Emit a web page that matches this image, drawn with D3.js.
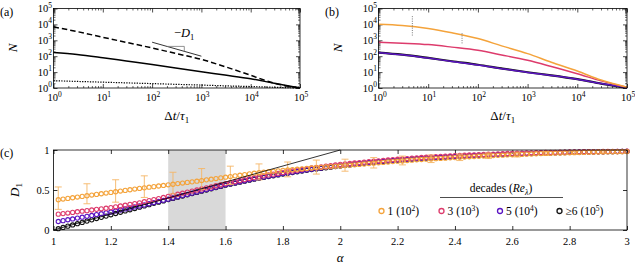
<!DOCTYPE html>
<html>
<head>
<meta charset="utf-8">
<script src="https://cdn.jsdelivr.net/npm/d3@7"></script>
<style>
  body { margin: 0; background: #fff; }
  svg text { font-family: "Liberation Serif", "DejaVu Serif", serif; fill: #000; }
</style>
</head>
<body>
<div id="chart"></div>
<script>
// ---- data: panels (a) and (b), N versus dt/tau1 ----
const tGrid = [1, 3, 10, 30, 100, 300, 1000, 3000, 10000, 30000, 100000];
const nSolidA  = [170, 128, 80, 50, 30, 18, 10.5, 6.5, 3.8, 2, 1];
const nDashedA = [7000, 3550, 1550, 740, 330, 150, 63, 22, 6.3, 2, 1];
const nDottedA = [2.88, 2.59, 2.33, 2.10, 1.89, 1.70, 1.53, 1.37, 1.24, 1.11, 1];
const nOrangeB = [10200, 8500, 5500, 2950, 1290, 447, 145, 41.7, 11.7, 3.16, 1.12];
const nPinkB   = [760, 660, 537, 372, 234, 120, 55, 22.4, 7.9, 2.8, 1.12];
const nPurpleB = [165, 122, 76, 47, 28, 16.5, 9.5, 6.2, 3.6, 1.9, 1.05];
const nBlackB  = [170, 126, 78, 48, 29, 17, 9.8, 6.3, 3.6, 1.9, 1];
const decadeExp = ["0", "1", "2", "3", "4", "5"];

// slope guide in (a)
const slopeT = [100, 1000], slopeN = [760, 100];
const triT = [200, 450, 450], triN = [413, 413, 202];
// dotted markers in (b)
const markT = [4.8, 48], markTop = [33000, 2800], markBot = [1800, 560];

// ---- data: panel (c), D1 versus alpha ----
const alphaN = 120; // alpha = 1 + k/60, k = 1..120
const d1Orange = [
  .378,.387,.395,.403,.412,.42, .428,.437,.445,.453,.462,.47, .478,.487,.495,.503,.512,.52,
  .527,.535,.542,.55,.557,.565, .572,.58,.587,.595,.602,.61, .618,.627,.635,.643,.652,.66,
  .668,.677,.685,.693,.702,.71, .716,.722,.728,.733,.739,.745, .75,.755,.76,.765,.77,.775,
  .779,.783,.788,.792,.796,.80, .805,.81,.815,.82,.825,.83, .835,.84,.845,.85,.855,.86,
  .864,.868,.873,.877,.881,.885, .888,.892,.895,.898,.902,.905, .908,.912,.915,.918,.922,.925,
  .928,.93,.933,.935,.938,.94, .943,.945,.948,.95,.953,.955, .957,.958,.96,.962,.963,.965,
  .967,.968,.97,.972,.973,.975, .976,.977,.978,.978,.979,.98];
const d1Pink = [
  .198,.205,.212,.22,.228,.235, .242,.25,.258,.265,.272,.28, .29,.30,.31,.32,.33,.34,
  .353,.367,.38,.393,.407,.42, .433,.447,.46,.473,.487,.50, .513,.527,.54,.553,.567,.58,
  .593,.605,.618,.63,.643,.655, .666,.677,.688,.698,.709,.72, .729,.738,.748,.757,.766,.775,
  .783,.79,.798,.805,.813,.82, .826,.832,.838,.843,.849,.855, .86,.865,.87,.875,.88,.885,
  .889,.893,.898,.902,.906,.91, .913,.917,.92,.923,.927,.93, .933,.935,.938,.94,.943,.945,
  .947,.949,.952,.954,.956,.958, .96,.961,.963,.965,.966,.968, .969,.97,.971,.973,.974,.975,
  .976,.977,.978,.978,.979,.98, .981,.982,.983,.983,.984,.985];
const d1Purple = [
  .106,.117,.128,.138,.149,.16, .171,.182,.193,.203,.214,.225, .238,.25,.263,.275,.288,.30,
  .314,.328,.343,.357,.371,.385, .40,.415,.43,.445,.46,.475, .49,.505,.52,.535,.55,.565,
  .578,.59,.603,.615,.628,.64, .651,.662,.673,.683,.694,.705, .714,.723,.733,.742,.751,.76,
  .768,.775,.783,.79,.798,.805, .812,.818,.825,.832,.838,.845, .85,.855,.86,.865,.87,.875,
  .879,.883,.888,.892,.896,.90, .903,.907,.91,.913,.917,.92, .923,.926,.929,.932,.935,.938,
  .94,.943,.945,.947,.95,.952, .954,.956,.957,.959,.961,.963, .964,.966,.967,.968,.97,.971,
  .972,.973,.975,.976,.977,.978, .979,.98,.98,.981,.982,.983];
const d1Black = [
  .016,.032,.048,.063,.079,.095, .111,.127,.143,.158,.174,.19, .206,.222,.238,.253,.269,.285,
  .301,.317,.333,.348,.364,.38, .395,.41,.425,.44,.455,.47, .485,.50,.515,.53,.545,.56,
  .573,.585,.598,.61,.623,.635, .646,.657,.668,.678,.689,.70, .709,.718,.728,.737,.746,.755,
  .763,.77,.778,.785,.793,.80, .807,.813,.82,.827,.833,.84, .845,.851,.856,.861,.867,.872,
  .876,.881,.885,.889,.894,.898, .901,.905,.908,.911,.915,.918, .921,.924,.927,.93,.933,.936,
  .938,.941,.943,.945,.948,.95, .952,.954,.955,.957,.959,.961, .963,.964,.966,.967,.969,.97,
  .971,.972,.974,.975,.976,.977, .978,.979,.979,.98,.981,.982];
// error bars on the 1-decade series, every 6th point
const errUp   = [.16,.15,.15,.15,.15,.15,.13,.11,.10,.095,.08,.07,.06,.05,.04,.035,.03,.025,.02,.015];
const errDown = [.12,.10,.13,.12,.12,.11,.10,.09,.085,.08,.07,.06,.05,.045,.04,.035,.03,.025,.02,.015];
const refAlpha = [1, 2], refD1 = [0, 1];
const bandAlpha = [1.4, 1.6];
const xTicksC = ["1", "1.2", "1.4", "1.6", "1.8", "2", "2.2", "2.4", "2.6", "2.8", "3"];
const yTicksC = ["0", "0.5", "1"];

const legendLabels = ["1", "3", "5", "\u22656"];
const legendExp = ["2", "3", "4", "5"];
const colors = { orange: "#f4a33b", pink: "#dd3b6c", purple: "#5a14c2", black: "#151515" };
const serif = "'Liberation Serif', 'DejaVu Serif', serif";

const svg = d3.select("#chart").append("svg")
    .attr("width", 635).attr("height", 266)
    .attr("font-family", serif);

function pow10(sel, exp) {
    sel.append("tspan").text("10");
    sel.append("tspan").attr("dy", -4.5).attr("font-size", 7.5).text(exp);
}

// log-log panel
function logPanel(left, right, top, bottom, tag, tagX) {
    const x = d3.scaleLog().domain([1, 1e5]).range([left, right]);
    const y = d3.scaleLog().domain([1, 1e5]).range([bottom, top]);
    const g = svg.append("g");
    const majors = decadeExp.map(e => 10 ** (+e));
    const minors = d3.range(0, 5).flatMap(d => d3.range(2, 10).map(m => m * 10 ** d));

    const axes = [
        [d3.axisBottom(x), `translate(0,${bottom})`],
        [d3.axisTop(x), `translate(0,${top})`],
        [d3.axisLeft(y), `translate(${left},0)`],
        [d3.axisRight(y), `translate(${right},0)`]
    ];
    axes.forEach(([ax, tr]) => {
        g.append("g").attr("transform", tr)
            .call(ax.tickValues(majors).tickSize(-4).tickFormat(""))
            .call(s => s.select(".domain").remove())
            .selectAll("line").attr("stroke", "#000").attr("stroke-width", 0.7);
        g.append("g").attr("transform", tr)
            .call(ax.tickValues(minors).tickSize(-2).tickFormat(""))
            .call(s => s.select(".domain").remove())
            .selectAll("line").attr("stroke", "#000").attr("stroke-width", 0.6);
    });

    // tick labels
    decadeExp.forEach(e => {
        const v = 10 ** (+e);
        g.append("text").attr("x", x(v) + 1).attr("y", bottom + 13)
            .attr("text-anchor", "middle").attr("font-size", 10.5)
            .attr("font-family", serif)
            .call(s => pow10(s, e));
        g.append("text").attr("x", left - 1.5).attr("y", y(v) + 3.5)
            .attr("text-anchor", "end").attr("font-size", 10.5)
            .attr("font-family", serif)
            .call(s => pow10(s, e));
    });

    // axis labels
    const xl = g.append("text").attr("x", (left + right) / 2).attr("y", 120)
        .attr("text-anchor", "middle").attr("font-size", 13).attr("font-family", serif);
    xl.append("tspan").text("\u0394");
    xl.append("tspan").attr("font-style", "italic").text("t");
    xl.append("tspan").text("/");
    xl.append("tspan").attr("font-style", "italic").text("\u03c4");
    xl.append("tspan").attr("dy", 3).attr("font-size", 9).text("1");

    g.append("text").attr("transform", `translate(${left - 37},48) rotate(-90)`)
        .attr("text-anchor", "middle").attr("font-size", 13).attr("font-family", serif)
        .attr("font-style", "italic").text("N");

    svg.append("text").attr("x", tagX).attr("y", 16).attr("font-size", 12)
        .attr("font-family", serif).text(tag);
    return { g, x, y };
}

function frame(g, left, right, top, bottom) {
    g.append("rect").attr("x", left).attr("y", top)
        .attr("width", right - left).attr("height", bottom - top)
        .attr("fill", "none").attr("stroke", "#000").attr("stroke-width", 0.8);
}

// ---------- panel (a) ----------
const A = { left: 53.5, right: 300, top: 8.5, bottom: 88 };
const pa = logPanel(A.left, A.right, A.top, A.bottom, "(a)", 0);
const lineA = d3.line().x((d, i) => pa.x(tGrid[i])).y(d => pa.y(d)).curve(d3.curveMonotoneX);
pa.g.append("path").datum(nDottedA).attr("d", lineA).attr("fill", "none")
    .attr("stroke", "#000").attr("stroke-width", 1.2).attr("stroke-dasharray", "1.3,1.3");
pa.g.append("path").datum(nSolidA).attr("d", lineA).attr("fill", "none")
    .attr("stroke", "#000").attr("stroke-width", 1.5);
pa.g.append("path").datum(nDashedA).attr("d", lineA).attr("fill", "none")
    .attr("stroke", "#000").attr("stroke-width", 1.5).attr("stroke-dasharray", "5.5,3");
// slope guide
pa.g.append("line")
    .attr("x1", pa.x(slopeT[0])).attr("y1", pa.y(slopeN[0]))
    .attr("x2", pa.x(slopeT[1])).attr("y2", pa.y(slopeN[1]))
    .attr("stroke", "#000").attr("stroke-width", 0.8);
pa.g.append("path")
    .attr("d", d3.line()(triT.map((t, i) => [pa.x(t), pa.y(triN[i])])))
    .attr("fill", "none").attr("stroke", "#777").attr("stroke-width", 0.8);
const dl = pa.g.append("text").attr("x", 174).attr("y", 37).attr("font-size", 12.5)
    .attr("font-family", serif);
dl.append("tspan").text("\u2212");
dl.append("tspan").attr("font-style", "italic").text("D");
dl.append("tspan").attr("dy", 3).attr("font-size", 8.5).text("1");
frame(pa.g, A.left, A.right, A.top, A.bottom);

// ---------- panel (b) ----------
const B = { left: 378.5, right: 627, top: 8.5, bottom: 88 };
const pb = logPanel(B.left, B.right, B.top, B.bottom, "(b)", 325);
const lineB = d3.line().x((d, i) => pb.x(tGrid[i])).y(d => pb.y(d)).curve(d3.curveMonotoneX);
[[nBlackB, colors.black, 2.2], [nPurpleB, colors.purple, 1.5],
 [nPinkB, colors.pink, 1.5], [nOrangeB, colors.orange, 1.5]].forEach(([d, c, w]) => {
    pb.g.append("path").datum(d).attr("d", lineB).attr("fill", "none")
        .attr("stroke", c).attr("stroke-width", w);
});
markT.forEach((t, i) => {
    pb.g.append("line")
        .attr("x1", pb.x(t)).attr("x2", pb.x(t))
        .attr("y1", pb.y(markTop[i])).attr("y2", pb.y(markBot[i]))
        .attr("stroke", "#555").attr("stroke-width", 0.8).attr("stroke-dasharray", "1,1.3");
});
frame(pb.g, B.left, B.right, B.top, B.bottom);

// ---------- panel (c) ----------
const C = { left: 53.5, right: 627, top: 150, bottom: 230 };
const xc = d3.scaleLinear().domain([1, 3]).range([C.left, C.right]);
const yc = d3.scaleLinear().domain([0, 1]).range([C.bottom, C.top]);
const gc = svg.append("g");
const alpha = d3.range(1, alphaN + 1).map(k => 1 + k / 60);

gc.append("rect")
    .attr("x", xc(bandAlpha[0])).attr("y", C.top)
    .attr("width", xc(bandAlpha[1]) - xc(bandAlpha[0])).attr("height", C.bottom - C.top)
    .attr("fill", "#d9d9d9");

// ticks
const xTickVals = xTicksC.map(Number), yTickVals = yTicksC.map(Number);
[[d3.axisBottom(xc).tickValues(xTickVals), `translate(0,${C.bottom})`],
 [d3.axisTop(xc).tickValues(xTickVals), `translate(0,${C.top})`],
 [d3.axisLeft(yc).tickValues(yTickVals), `translate(${C.left},0)`],
 [d3.axisRight(yc).tickValues(yTickVals), `translate(${C.right},0)`]].forEach(([ax, tr]) => {
    gc.append("g").attr("transform", tr)
        .call(ax.tickSize(-4).tickFormat(""))
        .call(s => s.select(".domain").remove())
        .selectAll("line").attr("stroke", "#000").attr("stroke-width", 0.8);
});
xTicksC.forEach(t => {
    gc.append("text").attr("x", xc(+t)).attr("y", 245).attr("text-anchor", "middle")
        .attr("font-size", 10.5).attr("font-family", serif).text(t);
});
yTicksC.forEach(t => {
    gc.append("text").attr("x", C.left - 4).attr("y", yc(+t) + 3.8).attr("text-anchor", "end")
        .attr("font-size", 10.5).attr("font-family", serif).text(t);
});

// markers
const series = [[d1Black, colors.black], [d1Purple, colors.purple], [d1Pink, colors.pink]];
series.forEach(([d, c]) => {
    gc.append("g").selectAll("circle").data(d).enter().append("circle")
        .attr("cx", (v, i) => xc(alpha[i])).attr("cy", v => yc(v)).attr("r", 2.1)
        .attr("fill", "none").attr("stroke", c).attr("stroke-width", 1.1);
});
// error bars on orange
const eg = gc.append("g").attr("stroke", "#f5b565").attr("stroke-width", 0.9);
errUp.forEach((u, j) => {
    const i = j * 6;
    const xp = xc(alpha[i]), yt = yc(d1Orange[i] + u), yb = yc(d1Orange[i] - errDown[j]);
    eg.append("line").attr("x1", xp).attr("x2", xp).attr("y1", yt).attr("y2", yb);
    eg.append("line").attr("x1", xp - 3.5).attr("x2", xp + 3.5).attr("y1", yt).attr("y2", yt);
    eg.append("line").attr("x1", xp - 3.5).attr("x2", xp + 3.5).attr("y1", yb).attr("y2", yb);
});
gc.append("g").selectAll("circle").data(d1Orange).enter().append("circle")
    .attr("cx", (v, i) => xc(alpha[i])).attr("cy", v => yc(v)).attr("r", 2.1)
    .attr("fill", "none").attr("stroke", colors.orange).attr("stroke-width", 1.1);

// reference line D1 = alpha - 1
gc.append("line")
    .attr("x1", xc(refAlpha[0])).attr("y1", yc(refD1[0]))
    .attr("x2", xc(refAlpha[1])).attr("y2", yc(refD1[1]))
    .attr("stroke", "#000").attr("stroke-width", 0.8);
frame(gc, C.left, C.right, C.top, C.bottom);

// labels
svg.append("text").attr("x", 0).attr("y", 157).attr("font-size", 12)
    .attr("font-family", serif).text("(c)");
const yl = svg.append("text").attr("transform", "translate(19,190) rotate(-90)")
    .attr("text-anchor", "middle").attr("font-size", 13).attr("font-family", serif);
yl.append("tspan").attr("font-style", "italic").text("D");
yl.append("tspan").attr("dy", 3).attr("font-size", 9).text("1");
svg.append("text").attr("x", xc(2)).attr("y", 262).attr("text-anchor", "middle")
    .attr("font-size", 13).attr("font-style", "italic").attr("font-family", serif).text("\u03b1");

// legend
const lt = svg.append("text").attr("x", 501).attr("y", 192).attr("text-anchor", "middle")
    .attr("font-size", 11.5).attr("font-family", serif);
lt.append("tspan").text("decades (");
lt.append("tspan").attr("font-style", "italic").text("Re");
lt.append("tspan").attr("dy", 2.5).attr("font-size", 8).attr("font-style", "italic").text("\u03bb");
lt.append("tspan").attr("dy", -2.5).text(")");
svg.append("line").attr("x1", 440).attr("x2", 563).attr("y1", 197.5).attr("y2", 197.5)
    .attr("stroke", "#000").attr("stroke-width", 0.7);
const legX = [381.5, 441.5, 500, 559.5];
const legC = [colors.orange, colors.pink, colors.purple, colors.black];
legendLabels.forEach((lab, i) => {
    svg.append("circle").attr("cx", legX[i]).attr("cy", 211).attr("r", 2.5)
        .attr("fill", "none").attr("stroke", legC[i]).attr("stroke-width", 1.3);
    const t = svg.append("text").attr("x", legX[i] + 6).attr("y", 215).attr("font-size", 11.5)
        .attr("font-family", serif);
    t.append("tspan").text(lab + " (10");
    t.append("tspan").attr("dy", -4.5).attr("font-size", 7.5).text(legendExp[i]);
    t.append("tspan").attr("dy", 4.5).text(")");
});
</script>
</body>
</html>
